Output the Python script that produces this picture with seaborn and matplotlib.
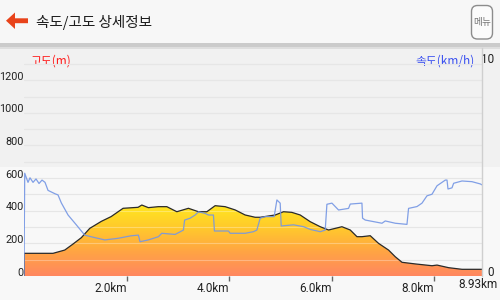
import numpy as np
import matplotlib
matplotlib.use("Agg")
import matplotlib.pyplot as plt
import seaborn as sns
from matplotlib.patches import Polygon, FancyBboxPatch, Rectangle
from matplotlib.colors import LinearSegmentedColormap
from matplotlib.transforms import ScaledTranslation
from matplotlib import font_manager as fm

# ---------------- data ----------------
title = "속도/고도 상세정보"
menu_label = "메뉴"
elev_label = "고도(m)"
speed_label = "속도(km/h)"
elev_ticks = [0, 200, 400, 600, 800, 1000, 1200]
speed_ticks = [0, 10]
dist_ticks = [2, 4, 6, 8]
dist_tick_labels = ["2.0km", "4.0km", "6.0km", "8.0km"]
total_dist = 8.93
total_label = "8.93km"

elev_km = [0.0, 0.566, 0.794, 0.956, 1.118, 1.282, 1.508, 1.698, 1.932, 2.224,
           2.297, 2.425, 2.620, 2.784, 2.980, 3.206, 3.401, 3.565, 3.727, 3.922,
           4.117, 4.312, 4.507, 4.605, 4.898, 5.060, 5.223, 5.385, 5.580, 5.776,
           5.938, 6.199, 6.361, 6.492, 6.589, 6.751, 6.913, 7.108, 7.239, 7.370,
           7.629, 7.955, 8.053, 8.279, 8.540, 8.930]
elev_m = [139, 139, 159, 196, 235, 292, 335, 364, 415, 421,
          435, 419, 425, 425, 394, 415, 394, 394, 431, 425,
          405, 374, 360, 360, 374, 394, 390, 374, 333, 302,
          282, 302, 282, 241, 241, 247, 200, 159, 118, 84,
          74, 63, 67, 51, 41, 41]

speed_km = [0.0, 0.014, 0.078, 0.117, 0.176, 0.234, 0.293, 0.351, 0.410, 0.468,
            0.605, 0.663, 0.728, 0.859, 1.020, 1.184, 1.380, 1.575, 1.834, 2.088,
            2.230, 2.263, 2.425, 2.620, 2.687, 2.946, 3.108, 3.132, 3.239, 3.337,
            3.401, 3.532, 3.596, 3.694, 3.713, 3.986, 4.020, 4.312, 4.474, 4.540,
            4.605, 4.702, 4.878, 4.931, 4.995, 5.015, 5.255, 5.450, 5.580, 5.776,
            5.873, 5.906, 6.004, 6.133, 6.328, 6.361, 6.589, 6.601, 6.654, 6.980,
            7.044, 7.239, 7.467, 7.498, 7.662, 7.760, 7.857, 7.955, 8.053, 8.215,
            8.248, 8.267, 8.345, 8.377, 8.540, 8.735, 8.898, 8.930]
speed_kmh = [0.0, 4.5, 4.1, 4.3, 4.1, 4.25, 4.05, 4.2, 4.1, 3.75,
             3.6, 3.55, 3.2, 2.67, 2.24, 1.79, 1.68, 1.58, 1.65, 1.76,
             1.79, 1.50, 1.58, 1.72, 1.87, 1.82, 2.01, 2.45, 2.53, 2.67,
             2.81, 2.74, 2.67, 2.67, 1.97, 1.97, 1.87, 1.87, 1.94, 2.01,
             2.53, 2.60, 2.60, 3.33, 3.19, 2.19, 2.24, 2.16, 2.04, 1.94,
             2.01, 3.14, 3.19, 2.89, 2.96, 3.15, 3.19, 2.53, 2.45, 2.31,
             2.41, 2.31, 2.26, 2.96, 3.04, 3.19, 3.51, 3.58, 3.95, 4.20,
             4.20, 3.81, 3.86, 4.06, 4.16, 4.13, 4.03, 3.99]

# ---------------- style ----------------
sns.set_theme(style="white")
avail = {f.name for f in fm.fontManager.ttflist}
num_fonts = [f for f in ["Liberation Sans Narrow", "DejaVu Sans Condensed", "Roboto"] if f in avail]
if not num_fonts:
    num_fonts = ["DejaVu Sans"]
kr = ["Noto Sans CJK KR", "DejaVu Sans"]
plt.rcParams["font.family"] = num_fonts + ["Noto Sans CJK KR"]
NUM_FS = 8.5
YNUM_FS = 7.8

W, H = 500, 300
fig = plt.figure(figsize=(5, 3), dpi=100, facecolor="#f5f5f5")

# background / header layer in pixel coordinates
bg = fig.add_axes([0, 0, 1, 1], zorder=0)
bg.set_xlim(0, W)
bg.set_ylim(H, 0)
bg.axis("off")
bg.add_patch(Rectangle((0, 0), W, 43, color="#f7f7f7", lw=0))
bg.add_patch(Rectangle((0, 43), W, 4, color="#cbcbcb", lw=0))
bg.add_patch(Rectangle((0, 47), W, 2, color="#dedede", lw=0))
bg.add_patch(Rectangle((0, 49), W, 118, color="#f1f1f1", lw=0))
bg.add_patch(Rectangle((0, 167), W, 133, color="#f8f8f8", lw=0))

# back arrow
arrow = Polygon([(6, 20.7), (15, 12.5), (15, 18.3), (28, 18.3), (28, 23.2),
                 (15, 23.2), (15, 29.0)], closed=True, color="#e8431a", lw=0)
bg.add_patch(arrow)
bg.text(36.5, 22, title, fontsize=10.5, family=kr, va="center", ha="left", color="#1e1e1e")

# menu button
bg.add_patch(FancyBboxPatch((471.5, 5.5), 21, 33.5,
                            boxstyle="round,pad=0,rounding_size=6",
                            fc="#fbfbfb", ec="#8c8c8c", lw=1))
bg.text(482, 22.5, menu_label, fontsize=7, family=kr, va="center", ha="center", color="#777777")

# axis titles
bg.text(30, 61.5, elev_label, fontsize=8.5, family=kr, va="center", ha="left", color="#ff1a1a")
bg.text(475, 61, speed_label, fontsize=8.5, family=kr, va="center", ha="right", color="#3a50f0")

# ---------------- chart ----------------
ax = fig.add_axes([24 / W, 1 - 276 / H, 458 / W, (276 - 47.6) / H], zorder=1)
ax.set_facecolor("none")

for v in range(100, 1400, 100):
    ax.axhline(v, color="#dcdcdc", lw=0.8, zorder=0.5)

# gradient filled elevation
px = [0.0] + elev_km + [elev_km[-1]]
py = [0.0] + elev_m + [0.0]
cmap = LinearSegmentedColormap.from_list("elev", ["#ff8760", "#ffa444", "#ffc92c", "#ffe81e"])
grad = np.linspace(0, 1, 256).reshape(-1, 1)
im = ax.imshow(grad, extent=[0, total_dist, 0, 440], origin="lower", aspect="auto",
               cmap=cmap, zorder=1, interpolation="bilinear")
clip = Polygon(np.column_stack([px, py]), closed=True, transform=ax.transData,
               facecolor="none", edgecolor="none")
ax.add_patch(clip)
im.set_clip_path(clip)

for v in range(100, 1400, 100):
    ax.axhline(v, color="white", alpha=0.3, lw=0.8, zorder=2)

sns.lineplot(x=[0.0] + elev_km, y=[0.0] + elev_m, ax=ax, color="#2a2a2a", lw=0.9,
             estimator=None, sort=False, zorder=3)

ax.set_xlim(0, total_dist)
ax.set_ylim(0, 1400)
for s in ax.spines.values():
    s.set_visible(False)

ax.set_xticks(dist_ticks)
ax.set_xticklabels(dist_tick_labels, ha="right", fontsize=NUM_FS, color="#222222")
ax.set_yticks(elev_ticks)
ax.set_yticklabels([str(v) for v in elev_ticks], fontsize=YNUM_FS, color="#222222")
ax.tick_params(axis="x", length=3.5, width=1, color="#666666", pad=0.5, bottom=True)
ax.tick_params(axis="y", length=0, pad=0.0, left=True)
shift_up = ScaledTranslation(0, 0.045, fig.dpi_scale_trans)
for lab in ax.get_yticklabels():
    lab.set_transform(lab.get_transform() + shift_up)
ax.set_xlabel("")
ax.set_ylabel("")

# speed on twin axis
ax2 = ax.twinx()
sns.lineplot(x=speed_km, y=speed_kmh, ax=ax2, color="#7496e4", lw=0.9, alpha=0.9,
             estimator=None, sort=False)
ax2.set_ylim(0, 10)
ax2.set_xlim(0, total_dist)
for name, s in ax2.spines.items():
    s.set_visible(name == "right")
ax2.spines["right"].set_color("#cfcfcf")
ax2.spines["right"].set_linewidth(1)
ax2.set_yticks(speed_ticks)
ax2.set_yticklabels([str(v) for v in speed_ticks], fontsize=NUM_FS, color="#222222", ha="right")
ax2.tick_params(axis="y", length=0, pad=8.6, right=True)
ax2.set_ylabel("")
ax2.set_xlabel("")
labs = ax2.get_yticklabels()
labs[0].set_transform(labs[0].get_transform() + ScaledTranslation(0, 0.05, fig.dpi_scale_trans))
labs[1].set_transform(labs[1].get_transform() + ScaledTranslation(0, -0.10, fig.dpi_scale_trans))

# last distance label at the right end
bg.text(498, 285, total_label, fontsize=NUM_FS, va="center", ha="right", color="#222222")

fig.savefig("out.png", dpi=100, facecolor=fig.get_facecolor())
